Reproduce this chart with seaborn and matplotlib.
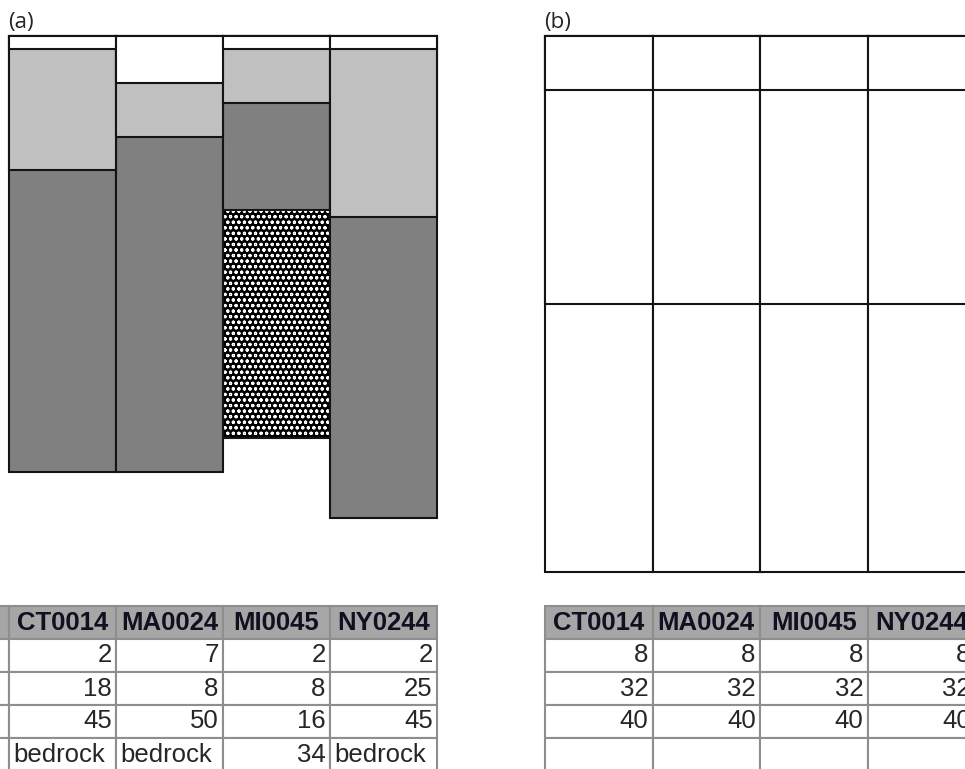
import pandas as pd
import matplotlib
matplotlib.use('Agg')
import matplotlib.pyplot as plt
from matplotlib.patches import Rectangle
import seaborn as sns

# layer thickness (cm) per site, top to bottom
sites = ['CT0014', 'MA0024', 'MI0045', 'NY0244']
layer1 = [2, 7, 2, 2]
layer2 = [18, 8, 8, 25]
layer3 = [45, 50, 16, 45]
layer4 = ['bedrock', 'bedrock', 34, 'bedrock']

# standard layers used in (b)
std1 = [8, 8, 8, 8]
std2 = [32, 32, 32, 32]
std3 = [40, 40, 40, 40]

faces_a = ['white', '#c0c0c0', '#808080', 'black']
faces_b = ['white', 'white', 'white']
EDGE = '#141414'
GRID = '#8e8e8e'
HEAD = '#a6a6a6'

sns.set_style('white')
plt.rcParams['font.family'] = ['Liberation Sans', 'DejaVu Sans']
plt.rcParams['hatch.linewidth'] = 0.8

W, H = 965, 769
fig = plt.figure(figsize=(W / 100, H / 100), dpi=100)


def px(l, t, w, h):
    return [l / W, 1 - (t + h) / H, w / W, h / H]


def layers_frame(cols):
    rows = []
    for k, col in enumerate(cols):
        for s, v in zip(sites, col):
            if not isinstance(v, str):
                rows.append((s, k, v))
    df = pd.DataFrame(rows, columns=['site', 'layer', 'thick'])
    df['depth'] = df.groupby('site')['thick'].cumsum()
    return df


def draw_columns(ax, df, faces, hatched=()):
    # deepest layer first, shallower cumulative bars drawn over it
    for k in sorted(df['layer'].unique(), reverse=True):
        sub = df[df['layer'] == k]
        n0 = len(ax.patches)
        sns.barplot(data=sub, x='site', y='depth', order=sites, width=1.0,
                    color=faces[k], saturation=1, errorbar=None,
                    edgecolor=EDGE, linewidth=1.5, ax=ax)
        for p in list(ax.patches[n0:]):
            p.set_clip_on(False)
            if k in hatched:
                p.set_facecolor('black')
                p.set_edgecolor('white')
                p.set_hatch('ooo')
                p.set_linewidth(0)
                ax.add_patch(Rectangle(p.get_xy(), p.get_width(), p.get_height(),
                                       fill=False, edgecolor=EDGE, linewidth=1.5,
                                       clip_on=False))
    ax.set_xlim(-0.5, len(sites) - 0.5)
    ax.set_ylim(80, 0)
    ax.set_axis_off()


def draw_table(ax, header, body, widths):
    ax.set_axis_off()
    tb = ax.table(cellText=body, colLabels=header, colWidths=widths,
                  bbox=[0, 0, 1, 1], cellLoc='right')
    tb.auto_set_font_size(False)
    tb.set_fontsize(18.5)
    for (r, c), cell in tb.get_celld().items():
        cell.PAD = 0.04
        cell.set_edgecolor(GRID)
        cell.set_linewidth(1.5)
        txt = cell.get_text().get_text()
        if r == 0:
            cell.set_facecolor(HEAD)
            cell.set_text_props(weight='bold', ha='center', color='#101020')
        elif txt and not txt.isdigit():
            cell.set_text_props(ha='left')


# (a) observed profiles
ax_a = fig.add_axes(px(9, 36, 428, 536))
draw_columns(ax_a, layers_frame([layer1, layer2, layer3, layer4]), faces_a, hatched=(3,))

# (b) standard layers
ax_b = fig.add_axes(px(545, 36, 430, 536))
draw_columns(ax_b, layers_frame([std1, std2, std3]), faces_b)

fig.text(8 / W, 1 - 28 / H, '(a)', fontsize=16, family=['Open Sans', 'DejaVu Sans'])
fig.text(544 / W, 1 - 28 / H, '(b)', fontsize=16, family=['Open Sans', 'DejaVu Sans'])

# tables under the panels
tab_a = fig.add_axes(px(-81, 606, 518, 165))
body_a = [[''] + [str(v) for v in col] for col in [layer1, layer2, layer3, layer4]]
draw_table(tab_a, [''] + sites, body_a, [90, 107, 107, 107, 107])

tab_b = fig.add_axes(px(545, 606, 430, 165))
body_b = [[str(v) for v in col] for col in [std1, std2, std3]] + [[''] * 4]
draw_table(tab_b, sites, body_b, [107.5] * 4)

fig.savefig('out.png', dpi=100)
